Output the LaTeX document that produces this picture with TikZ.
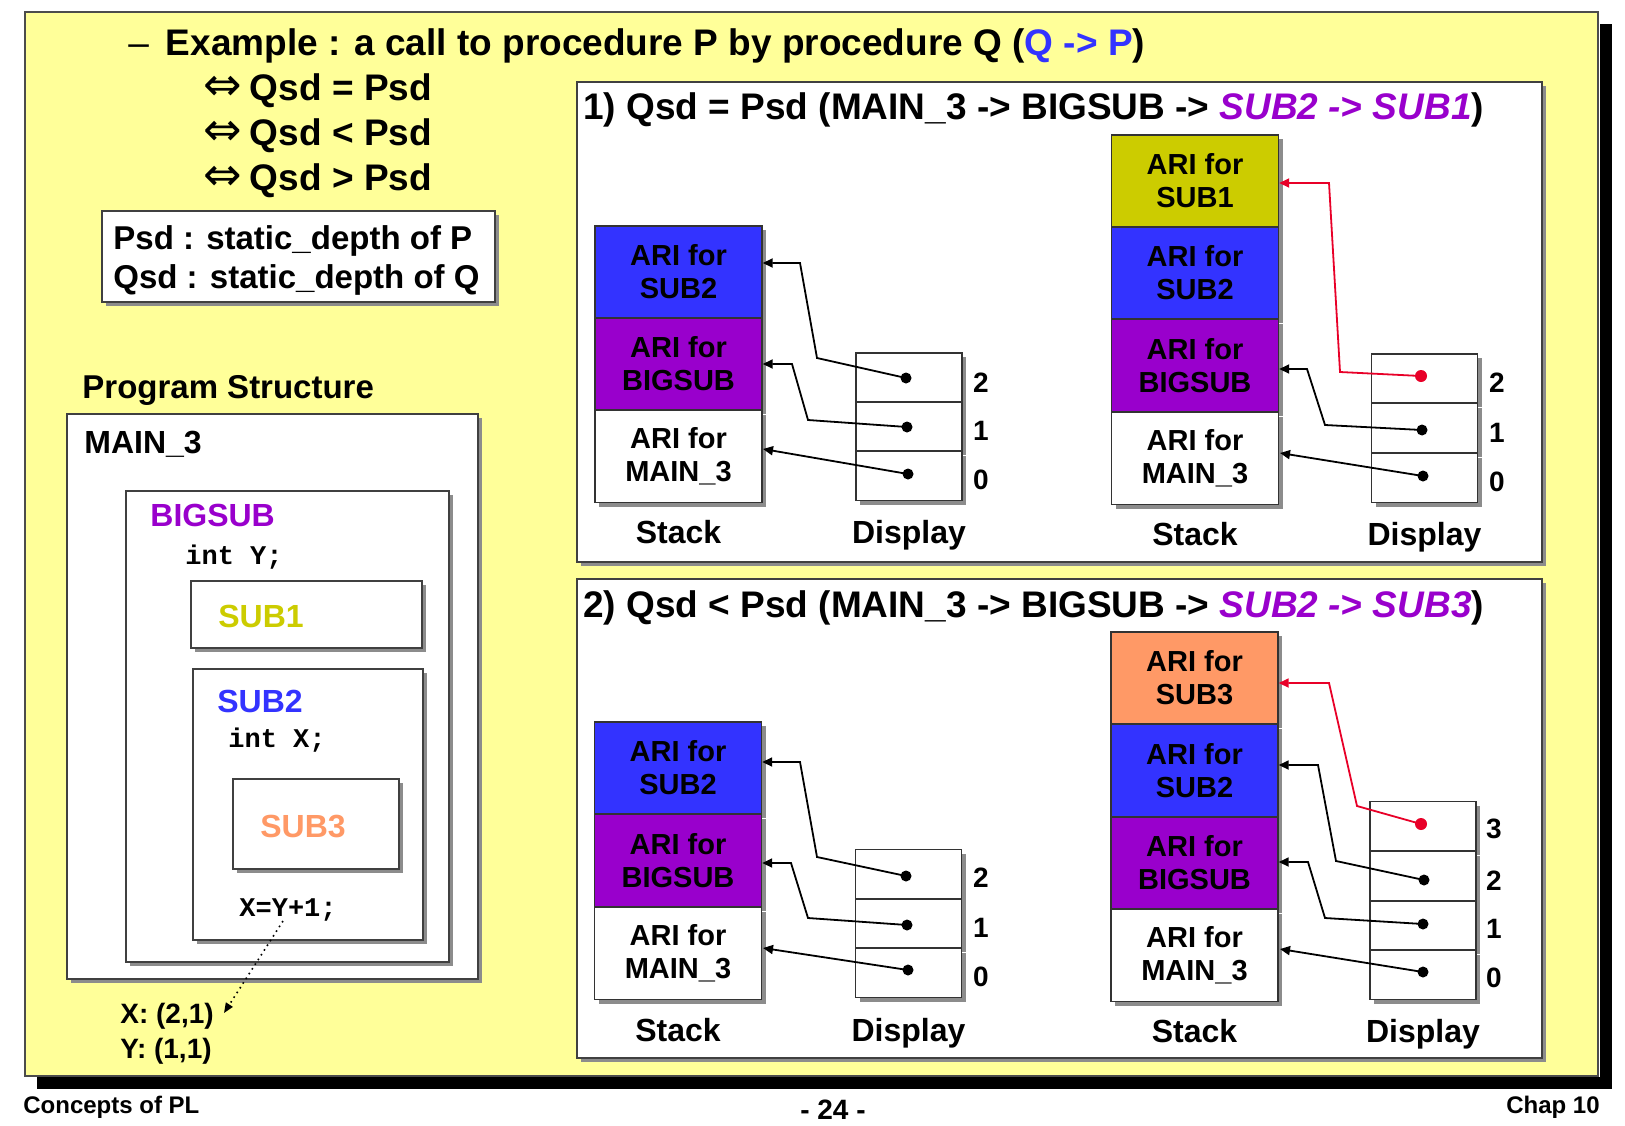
\documentclass[tikz,border=0pt]{standalone}
\usepackage{fontspec}
\setmainfont{Liberation Sans}
\newfontfamily\monofont{Liberation Mono}
\newfontfamily\symfont{DejaVu Sans}
\usetikzlibrary{arrows.meta,shadows}
\definecolor{bgyellow}{HTML}{FFFF99}
\definecolor{cblue}{HTML}{3333FF}
\definecolor{cpurple}{HTML}{9900CC}
\definecolor{colive}{HTML}{CCCC00}
\definecolor{corange}{HTML}{FF9966}
\definecolor{cred}{RGB}{232,0,40}
\begin{document}
\begin{tikzpicture}[x=0.5pt,y=-0.5pt,
  shd/.style={drop shadow={shadow xshift=2pt,shadow yshift=-2pt,fill=black!45,opacity=1}},
  pbox/.style={draw=black!75,fill=white,line width=0.6pt,shd},
  stk/.style={draw=black!80,line width=0.7pt,minimum width=83.5pt,minimum height=46pt,inner sep=0pt,align=center,
     font=\bfseries\fontsize{14.5}{16.5}\selectfont,shd},
  cell/.style={draw=black!80,fill=white,line width=0.7pt,minimum width=53pt,minimum height=24.5pt,inner sep=0pt,shd},
  dot/.style={circle,fill=black,inner sep=0pt,minimum size=5.5pt},
  rdot/.style={dot,fill=cred,minimum size=6pt},
  conn/.style={line width=0.9pt,-{Triangle[length=5pt,width=4.5pt]}},
  rconn/.style={conn,draw=cred,color=cred},
  num/.style={font=\bfseries\fontsize{14}{16}\selectfont,anchor=base,inner sep=0pt},
  lbl/.style={font=\bfseries\fontsize{16}{19}\selectfont,anchor=base,inner sep=0pt},
  ttl/.style={font=\bfseries\fontsize{18.5}{22}\selectfont,anchor=base west,inner sep=0pt},
  pst/.style={font=\bfseries\fontsize{16}{19}\selectfont,anchor=base west,inner sep=0pt},
  code/.style={font=\monofont\bfseries\fontsize{13.5}{16}\selectfont,anchor=base west,inner sep=0pt},
  small/.style={font=\bfseries\fontsize{14}{17}\selectfont,anchor=base west,inner sep=0pt},
  foot/.style={font=\bfseries\fontsize{12}{14}\selectfont,inner sep=0pt}]
\useasboundingbox (0,0) rectangle (1625,1125);
\fill[white] (0,0) rectangle (1625,1125);
% slide frame
\fill[black] (1600,24) rectangle (1612,1089);
\fill[black] (37,1077) rectangle (1612,1089);
\path[fill=bgyellow,draw=black!70,line width=0.6pt] (25,12) rectangle (1598,1076);

% headline
\node[ttl] (head) at (128,55) {{\mdseries –}\hspace{8.5pt}Example : a call to procedure P by procedure Q ({\color{cblue}Q -> P})};
\node[ttl] (eq1) at (203,100) {{\symfont\mdseries\fontsize{23}{22}\selectfont ⇔}\hspace{4pt}Qsd = Psd};
\node[ttl] (eq2) at (203,145) {{\symfont\mdseries\fontsize{23}{22}\selectfont ⇔}\hspace{4pt}Qsd < Psd};
\node[ttl] (eq3) at (203,190) {{\symfont\mdseries\fontsize{23}{22}\selectfont ⇔}\hspace{4pt}Qsd > Psd};

% definition box
\path[pbox] (102,211) rectangle (495,302);
\node[font=\bfseries\fontsize{16.5}{19}\selectfont,anchor=base west,inner sep=0pt] (def1) at (113,249) {Psd : static\_depth of P};
\node[font=\bfseries\fontsize{16.5}{19}\selectfont,anchor=base west,inner sep=0pt] (def2) at (113,288) {Qsd : static\_depth of Q};

% program structure
\node[font=\bfseries\fontsize{16.5}{19}\selectfont,anchor=base west,inner sep=0pt] (pstitle) at (82,398) {Program Structure};
\path[pbox] (67,414) rectangle (478,979);
\node[pst] (tmain) at (84,453) {MAIN\_3};
\path[pbox] (126,491) rectangle (449,962);
\node[pst,text=cpurple] (tbig) at (150,526) {BIGSUB};
\node[code] (inty) at (185,564) {int Y;};
\path[pbox] (191,581) rectangle (422,648);
\node[pst,text=colive] (tsub1) at (218,627) {SUB1};
\path[pbox] (193,669) rectangle (423,940);
\node[pst,text=cblue] (tsub2) at (217,712) {SUB2};
\node[code] (intx) at (228,747) {int X;};
\path[pbox] (233,779) rectangle (399,869);
\node[pst,text=corange] (tsub3) at (260,837) {SUB3};
\node[code] (stmt) at (239,916) {X=Y+1;};
\node[small] (xres) at (120,1023) {X: (2,1)};
\node[small] (yres) at (120,1058) {Y: (1,1)};
\coordinate (yref) at (283,921);
\coordinate (xend) at (224,1013);
\draw[dotted,line width=0.8pt,-{Triangle[length=5pt,width=4pt]}] (yref) -- (xend);

% panels
\path[pbox] (577,82) rectangle (1542,562);
\path[pbox] (577,579) rectangle (1542,1058);
\node[ttl] (p1title) at (583,119) {1) Qsd = Psd (MAIN\_3 -> BIGSUB -> {\color{cpurple}\itshape SUB2 -> SUB1})};
\node[ttl] (p2title) at (583,617) {2) Qsd < Psd (MAIN\_3 -> BIGSUB -> {\color{cpurple}\itshape SUB2 -> SUB3})};

% ---- panel 1 left
\node[stk,fill=cblue] (aS2) at (678.5,272) {ARI for\\SUB2};
\node[stk,fill=cpurple] (aBS) at (678.5,364) {ARI for\\BIGSUB};
\node[stk,fill=white] (aM) at (678.5,456.5) {ARI for\\MAIN\_3};
\node[cell] (aC2) at (909,377.5) {};
\node[cell] (aC1) at (909,426.5) {};
\node[cell] (aC0) at (909,476) {};
\node[dot] (aD2) at (906,378) {};
\node[dot] (aD1) at (907,427) {};
\node[dot] (aD0) at (908,474) {};
\node[num] (aN2) at (981,392) {2};
\node[num] (aN1) at (981,440) {1};
\node[num] (aN0) at (981,489) {0};
\node[lbl] (aSt) at (678.5,543) {Stack};
\node[lbl] (aDi) at (909,543) {Display};
\coordinate (aW2) at (800,263);
\coordinate (aW1) at (792,364);
\coordinate (aT0) at (763,449);
\draw[conn] (aD2.center) -- (817,358) -- (aW2) -- (aW2 -| aS2.east);
\draw[conn] (aD1.center) -- (808,420) -- (aW1) -- (aW1 -| aBS.east);
\draw[conn] (aD0.center) -- (aT0);

% ---- panel 1 right
\node[stk,fill=colive] (bS1) at (1195,181) {ARI for\\SUB1};
\node[stk,fill=cblue] (bS2) at (1195,273) {ARI for\\SUB2};
\node[stk,fill=cpurple] (bBS) at (1195,365.5) {ARI for\\BIGSUB};
\node[stk,fill=white] (bM) at (1195,458.5) {ARI for\\MAIN\_3};
\node[cell] (bC2) at (1424.5,378.5) {};
\node[cell] (bC1) at (1424.5,428) {};
\node[cell] (bC0) at (1424.5,478) {};
\node[rdot] (bD2) at (1421,376) {};
\node[dot] (bD1) at (1422,430) {};
\node[dot] (bD0) at (1423,476) {};
\node[num] (bN2) at (1497,392) {2};
\node[num] (bN1) at (1497,442) {1};
\node[num] (bN0) at (1497,491) {0};
\node[lbl] (bSt) at (1195,545) {Stack};
\node[lbl] (bDi) at (1424.5,545) {Display};
\coordinate (bW2) at (1329,183);
\coordinate (bW1) at (1307,369);
\coordinate (bT0) at (1280,453);
\draw[rconn] (bD2.center) -- (1340,372) -- (bW2) -- (bW2 -| bS1.east);
\draw[conn] (bD1.center) -- (1325,425) -- (bW1) -- (bW1 -| bBS.east);
\draw[conn] (bD0.center) -- (bT0);

% ---- panel 2 left
\node[stk,fill=cblue] (cS2) at (678,768) {ARI for\\SUB2};
\node[stk,fill=cpurple] (cBS) at (678,860.5) {ARI for\\BIGSUB};
\node[stk,fill=white] (cM) at (678,953.5) {ARI for\\MAIN\_3};
\node[cell] (cC2) at (908.5,874) {};
\node[cell] (cC1) at (908.5,923.5) {};
\node[cell] (cC0) at (908.5,973) {};
\node[dot] (cD2) at (906,876) {};
\node[dot] (cD1) at (907,925) {};
\node[dot] (cD0) at (908,970) {};
\node[num] (cN2) at (981,887) {2};
\node[num] (cN1) at (981,937) {1};
\node[num] (cN0) at (981,986) {0};
\node[lbl] (cSt) at (678,1041) {Stack};
\node[lbl] (cDi) at (908.5,1041) {Display};
\coordinate (cW2) at (800,762);
\coordinate (cW1) at (791,863);
\coordinate (cT0) at (763,948);
\draw[conn] (cD2.center) -- (817,857) -- (cW2) -- (cW2 -| cS2.east);
\draw[conn] (cD1.center) -- (808,918) -- (cW1) -- (cW1 -| cBS.east);
\draw[conn] (cD0.center) -- (cT0);

% ---- panel 2 right
\node[stk,fill=corange] (dS3) at (1194.5,678) {ARI for\\SUB3};
\node[stk,fill=cblue] (dS2) at (1194.5,770.5) {ARI for\\SUB2};
\node[stk,fill=cpurple] (dBS) at (1194.5,863) {ARI for\\BIGSUB};
\node[stk,fill=white] (dM) at (1194.5,955.5) {ARI for\\MAIN\_3};
\node[cell] (dC3) at (1423,826) {};
\node[cell] (dC2) at (1423,876) {};
\node[cell] (dC1) at (1423,925.5) {};
\node[cell] (dC0) at (1423,975) {};
\node[rdot] (dD3) at (1421,824) {};
\node[dot] (dD2) at (1424,880) {};
\node[dot] (dD1) at (1423,924) {};
\node[dot] (dD0) at (1423,972) {};
\node[num] (dN3) at (1494,838) {3};
\node[num] (dN2) at (1494,890) {2};
\node[num] (dN1) at (1494,938) {1};
\node[num] (dN0) at (1494,987) {0};
\node[lbl] (dSt) at (1194.5,1042) {Stack};
\node[lbl] (dDi) at (1423,1042) {Display};
\coordinate (dW3) at (1329,683);
\coordinate (dW2) at (1318,765);
\coordinate (dW1) at (1308,862);
\coordinate (dT0) at (1280,949);
\draw[rconn] (dD3.center) -- (1357,806) -- (dW3) -- (dW3 -| dS3.east);
\draw[conn] (dD2.center) -- (1336,861) -- (dW2) -- (dW2 -| dS2.east);
\draw[conn] (dD1.center) -- (1325,918) -- (dW1) -- (dW1 -| dBS.east);
\draw[conn] (dD0.center) -- (dT0);

% footer
\node[foot,anchor=base west] (fl) at (23,1113) {Concepts of PL};
\node[foot,anchor=base,font=\bfseries\fontsize{14}{16}\selectfont] (fc) at (833,1119) {- 24 -};
\node[foot,anchor=base east] (fr) at (1600,1113) {Chap 10};
\end{tikzpicture}
\end{document}
